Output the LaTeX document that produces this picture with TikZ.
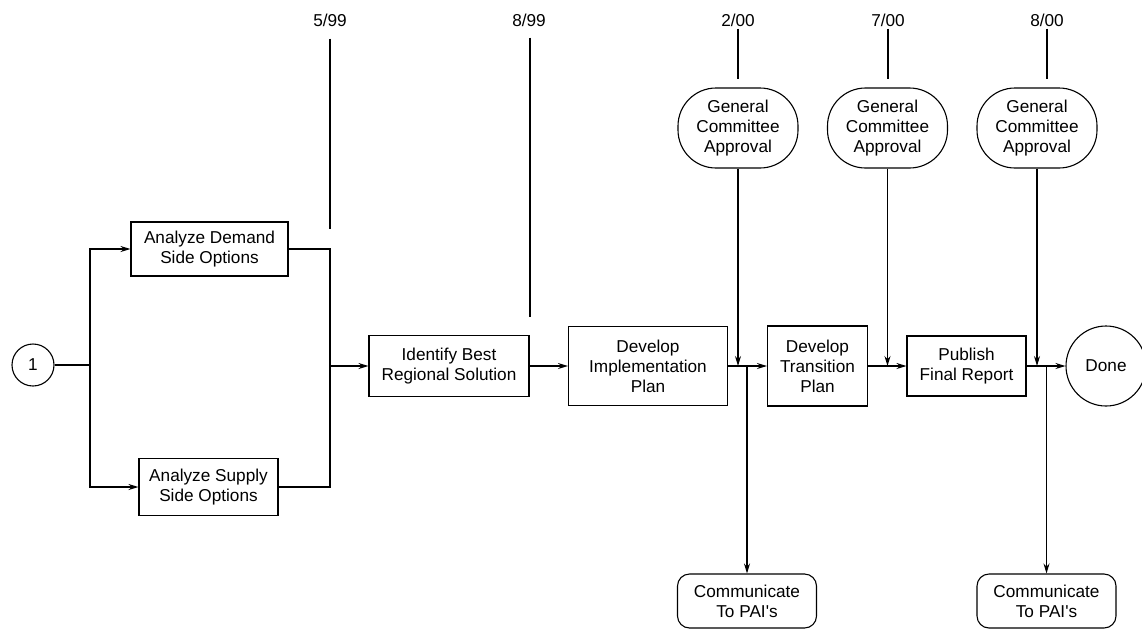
\documentclass[tikz,border=0pt]{standalone}
\usepackage{fontspec}
\setmainfont{Liberation Sans}[Ligatures=TeXOff]
\usetikzlibrary{arrows.meta}
\begin{document}
\begin{tikzpicture}[x=1pt,y=-1pt,
  every node/.style={font=\fontsize{17.2}{20}\selectfont, align=center, inner sep=0pt},
  ln/.style={line width=1.1pt},
  box/.style={draw, ln, rectangle},
  arr/.style={ln, -{Stealth[length=10pt,width=6pt]}},
  tl/.style={line width=1.8pt},
  gca/.style={draw, ln, rounded corners=38pt, minimum width=120pt, minimum height=80pt},
  comm/.style={draw, ln, rounded corners=12pt, minimum width=139pt, minimum height=54pt},
  rnd/.style={draw, ln, circle},
]
\useasboundingbox (0,0) rectangle (1142,630);

% timeline labels
\node (l599) at (330,20) {5/99};
\node (l899) at (529,20) {8/99};
\node (l200) at (738,20) {2/00};
\node (l700) at (888,20) {7/00};
\node (l800) at (1047,20) {8/00};

% process nodes
\node[rnd, minimum size=42pt] (one) at (33,365) {1};
\node[box, minimum width=157pt, minimum height=54pt] (demand) at (209.5,249) {Analyze Demand\\Side Options};
\node[box, minimum width=139pt, minimum height=57pt] (supply) at (208.5,487) {Analyze Supply\\Side Options};
\node[box, minimum width=160pt, minimum height=61pt] (ident) at (449,366) {Identify Best\\Regional Solution};
\node[box, minimum width=159pt, minimum height=79pt] (impl) at (648,366) {Develop\\Implementation\\Plan};
\node[box, minimum width=100pt, minimum height=80pt] (trans) at (817.5,366) {Develop\\Transition\\Plan};
\node[box, minimum width=119pt, minimum height=60pt] (pub) at (966.5,366) {Publish\\Final Report};
\node[rnd, minimum size=80pt] (done) at (1106,366) {Done};

\node[gca] (gca1) at (738,128) {General\\Committee\\Approval};
\node[gca] (gca2) at (887.5,128) {General\\Committee\\Approval};
\node[gca] (gca3) at (1037,128) {General\\Committee\\Approval};

\node[comm] (comm1) at (747,601) {Communicate\\To PAI's};
\node[comm] (comm2) at (1046.5,601) {Communicate\\To PAI's};

% timeline lines
\coordinate (e599) at (330,229);
\coordinate (e899) at (530,317);
\draw[tl, shorten <=12pt] (l599.south) -- (e599);
\draw[tl, shorten <=11pt] (l899.south -| e899) -- (e899);
\draw[tl, shorten <=2pt, shorten >=8pt] (l200.south) -- (gca1.north);
\draw[tl, shorten <=2pt, shorten >=8pt] (l700.south) -- (l700.south |- gca2.north);
\draw[tl, shorten <=2pt, shorten >=8pt] (l800.south) -- (l800.south |- gca3.north);

% flow
\coordinate (j0) at (90,365);
\coordinate (j1) at (330,366);
\coordinate (j2) at (747,366);
\coordinate (j3) at (1046.5,366);
\draw[ln] (one) -- (j0);
\draw[arr] (j0) |- (demand);
\draw[arr] (j0) |- (supply);
\draw[ln] (demand.east) -| (j1);
\draw[ln] (supply.east) -| (j1);
\draw[arr] (j1) -- (ident);
\draw[arr] (ident) -- (impl);
\draw[arr] (impl) -- (trans);
\draw[arr] (trans) -- (pub);
\draw[arr] (pub) -- (done);
\draw[arr] (gca1.south) -- (gca1.south |- j2);
\draw[arr] (gca2.south) -- (gca2.south |- j2);
\draw[arr] (gca3.south) -- (gca3.south |- j3);
\draw[arr] (j2) -- (comm1.north);
\draw[arr] (j3) -- (comm2.north);
\end{tikzpicture}
\end{document}
